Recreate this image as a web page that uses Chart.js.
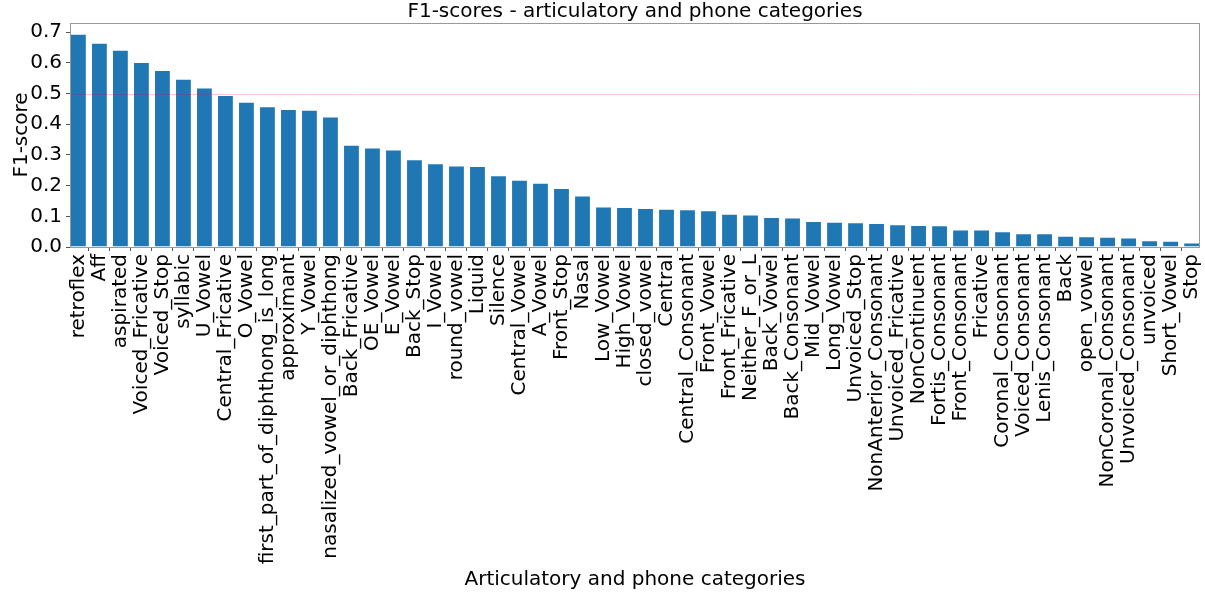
<!DOCTYPE html>
<html lang="en">
<head>
  <meta charset="UTF-8" />
  <title>F1-scores - articulatory and phone categories</title>
  <script src="https://cdn.jsdelivr.net/npm/chart.js"></script>
  <style>
    body { margin: 0; background: #fff; }
    .wrap { width: 1205px; height: 593px; position: relative; }
  </style>
</head>
<body>
  <div class="wrap"><canvas id="f1Chart"></canvas></div>

  <script>
    const categories = [
      'retroflex', 'Aff', 'aspirated', 'Voiced_Fricative', 'Voiced_Stop', 'syllabic',
      'U_Vowel', 'Central_Fricative', 'O_Vowel', 'first_part_of_diphthong_is_long',
      'approximant', 'Y_Vowel', 'nasalized_vowel_or_diphthong', 'Back_Fricative',
      'OE_Vowel', 'E_Vowel', 'Back_Stop', 'I_Vowel', 'round_vowel', 'Liquid', 'Silence',
      'Central_Vowel', 'A_Vowel', 'Front_Stop', 'Nasal', 'Low_Vowel', 'High_Vowel',
      'closed_vowel', 'Central', 'Central_Consonant', 'Front_Vowel', 'Front_Fricative',
      'Neither_F_or_L', 'Back_Vowel', 'Back_Consonant', 'Mid_Vowel', 'Long_Vowel',
      'Unvoiced_Stop', 'NonAnterior_Consonant', 'Unvoiced_Fricative', 'NonContinuent',
      'Fortis_Consonant', 'Front_Consonant', 'Fricative', 'Coronal_Consonant',
      'Voiced_Consonant', 'Lenis_Consonant', 'Back', 'open_vowel', 'NonCoronal_Consonant',
      'Unvoiced_Consonant', 'unvoiced', 'Short_Vowel', 'Stop'
    ];

    const f1Scores = [
      0.695, 0.666, 0.643, 0.603, 0.577, 0.548,
      0.520, 0.495, 0.473, 0.459,
      0.450, 0.447, 0.425, 0.333,
      0.324, 0.318, 0.286, 0.273, 0.266, 0.264, 0.234,
      0.219, 0.209, 0.192, 0.168, 0.132, 0.130,
      0.127, 0.125, 0.123, 0.120, 0.108,
      0.106, 0.098, 0.096, 0.085, 0.082,
      0.081, 0.078, 0.074, 0.072,
      0.071, 0.057, 0.057, 0.051,
      0.045, 0.045, 0.037, 0.035, 0.033,
      0.031, 0.022, 0.020, 0.015
    ];

    const yTickValues = [0.0, 0.1, 0.2, 0.3, 0.4, 0.5, 0.6, 0.7];
    const thresholdLine = 0.5;

    const font = { family: '"DejaVu Sans", sans-serif', size: 20 };

    // frame round the plot + faint red line at 0.5, drawn over the bars
    const framePlugin = {
      id: 'frame',
      afterDatasetsDraw(chart) {
        const { ctx, chartArea: a, scales } = chart;
        const yy = Math.round(scales.y.getPixelForValue(thresholdLine)) + 0.5;
        ctx.save();
        ctx.lineWidth = 1;
        ctx.strokeStyle = 'rgba(255, 0, 0, 0.2)';
        ctx.beginPath();
        ctx.moveTo(a.left, yy);
        ctx.lineTo(a.right, yy);
        ctx.stroke();
        ctx.strokeStyle = '#999';
        ctx.strokeRect(a.left + 0.5, a.top + 0.5, a.right - a.left - 1, a.bottom - a.top);
        ctx.restore();
      }
    };

    new Chart(document.getElementById('f1Chart'), {
      type: 'bar',
      data: {
        datasets: [{
          data: f1Scores.map((v, i) => ({ x: i, y: v })),
          backgroundColor: '#1f77b4',
          borderColor: 'rgba(255, 255, 255, 0.55)',
          borderWidth: 1,
          barPercentage: 0.8,
          categoryPercentage: 1.0
        }]
      },
      options: {
        responsive: true,
        maintainAspectRatio: false,
        animation: false,
        layout: { padding: { left: 0, right: 5, top: 0, bottom: 0 } },
        plugins: {
          legend: { display: false },
          tooltip: { enabled: false },
          title: {
            display: true,
            text: 'F1-scores - articulatory and phone categories',
            color: '#000',
            fullSize: false,
            font: { ...font, weight: 'normal', lineHeight: 1.15 },
            padding: { top: 0, bottom: 0 }
          }
        },
        scales: {
          x: {
            type: 'linear',
            min: -0.4,
            max: categories.length - 0.6,
            offset: false,
            afterBuildTicks: s => { s.ticks = categories.map((c, i) => ({ value: i })); },
            afterFit: s => { s.height = 346; s.paddingLeft = 0; s.paddingRight = 0; },
            ticks: {
              autoSkip: false,
              minRotation: 90,
              maxRotation: 90,
              padding: 3,
              color: '#000',
              font: font,
              callback: v => categories[v]
            },
            grid: { drawOnChartArea: false, drawTicks: true, tickLength: 4, color: '#555' },
            border: { display: false },
            title: {
              display: true,
              text: 'Articulatory and phone categories',
              color: '#000',
              font: font,
              padding: { top: 0, bottom: 1 }
            }
          },
          y: {
            min: 0,
            max: 0.73,
            afterBuildTicks: s => { s.ticks = yTickValues.map(v => ({ value: v })); },
            afterFit: s => { s.width = 70; s.paddingTop = 0; s.paddingBottom = 0; },
            ticks: {
              padding: 4,
              color: '#000',
              font: font,
              callback: v => v.toFixed(1)
            },
            grid: { drawOnChartArea: false, drawTicks: true, tickLength: 4, color: '#555' },
            border: { display: false },
            title: {
              display: true,
              text: 'F1-score',
              color: '#000',
              font: font,
              padding: { top: 10, bottom: 0 }
            }
          }
        }
      },
      plugins: [framePlugin]
    });
  </script>
</body>
</html>
